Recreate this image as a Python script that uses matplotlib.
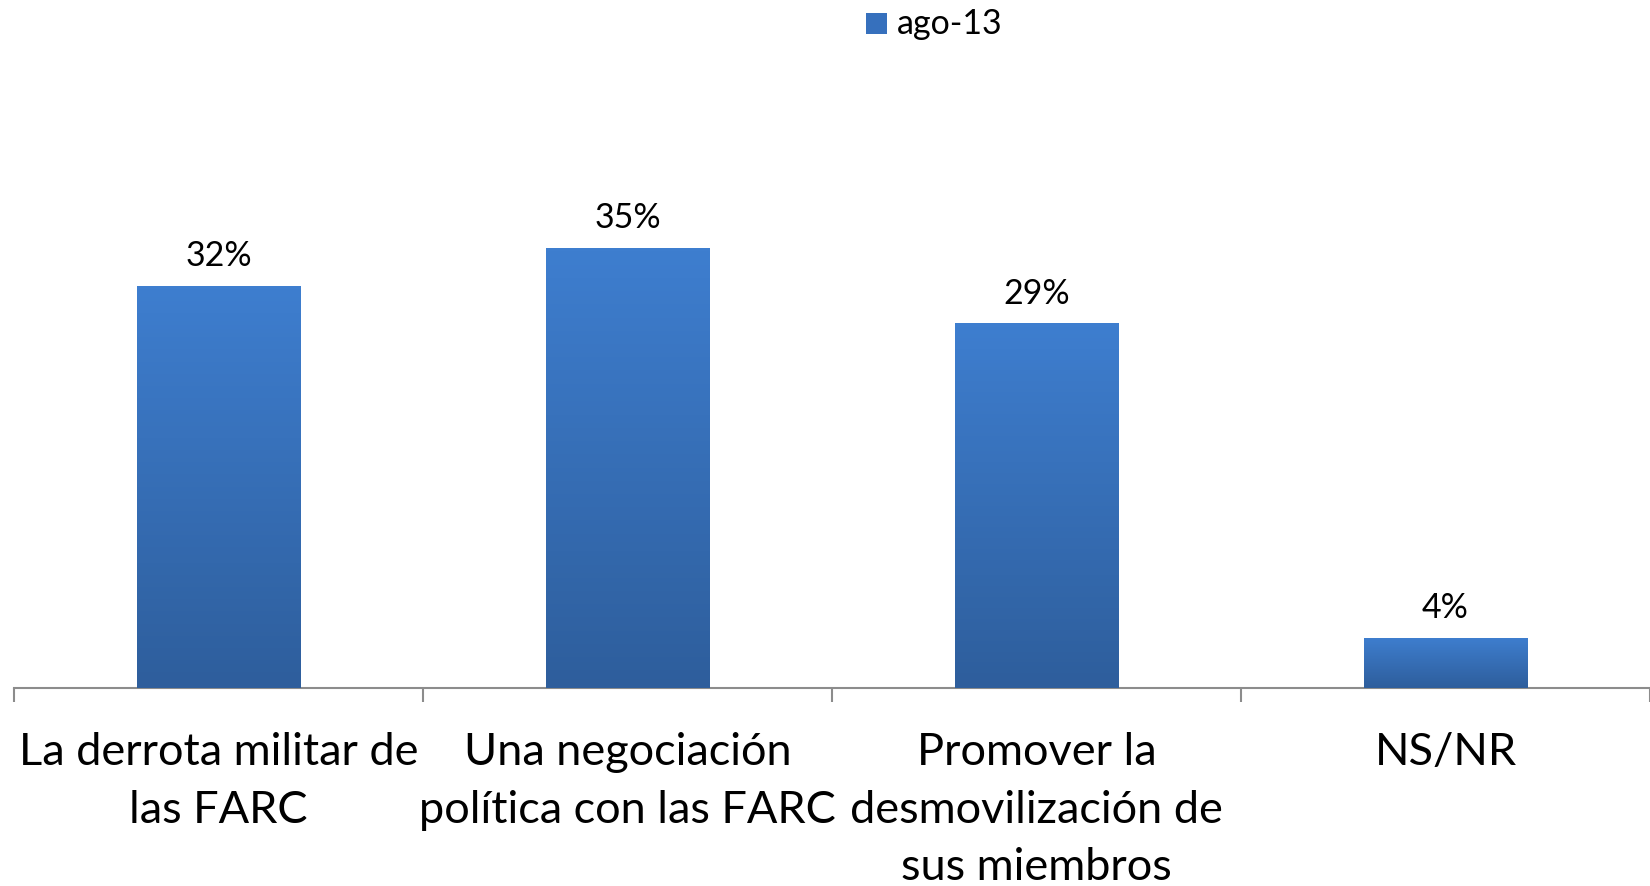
import numpy as np
import matplotlib.pyplot as plt
from matplotlib.colors import LinearSegmentedColormap

# Data
categories = ['La derrota militar de\nlas FARC',
              'Una negociación\npolítica con las FARC',
              'Promover la\ndesmovilización de\nsus miembros',
              'NS/NR']
values = [32, 35, 29, 4]
series_name = 'ago-13'

plt.rcParams['font.family'] = ['Lato', 'DejaVu Sans']

fig = plt.figure(figsize=(16.5, 8.87), dpi=100)
ax = fig.add_axes([0.0085, 0.2232, 0.9915, 0.567])

x = np.arange(len(categories))
bars = ax.bar(x, values, width=0.40, color='#3a73bd', zorder=2)

# vertical gradient on every bar
grad = LinearSegmentedColormap.from_list('g', ['#2e5e9c', '#3e7ecf'])
for b in bars:
    x0, y0 = b.get_x(), b.get_y()
    w, h = b.get_width(), b.get_height()
    im = ax.imshow(np.linspace(0, 1, 100).reshape(-1, 1), cmap=grad, origin='lower',
                   extent=[x0, x0 + w, y0, y0 + h], aspect='auto', zorder=3)
    im.set_clip_path(b)

for xi, v in zip(x, values):
    ax.text(xi, v + 1.15, f'{v}%', ha='center', va='bottom', fontsize=24.5)

ax.set_xlim(-0.5, 3.5)
ax.set_ylim(0, 40)

for s in ['top', 'right', 'left']:
    ax.spines[s].set_visible(False)
ax.spines['bottom'].set_color('#8c8c8c')
ax.spines['bottom'].set_linewidth(1.5)
ax.set_yticks([])
ax.set_xticks([-0.5, 0.5, 1.5, 2.5, 3.5])
ax.set_xticklabels([])
ax.tick_params(axis='x', length=10, width=1.5, color='#8c8c8c', direction='out')

for xi, lab in zip(x, categories):
    ax.text(xi, -3.45, lab, ha='center', va='top', fontsize=32.5, linespacing=1.50)

# legend
fig.patches.append(plt.Rectangle((0.5250, 0.9605), 0.0128, 0.0237, transform=fig.transFigure,
                                 facecolor='#3670bd', edgecolor='none', figure=fig))
fig.text(0.5434, 0.973, series_name, ha='left', va='center', fontsize=24.5)

fig.savefig('out.png', dpi=100)
